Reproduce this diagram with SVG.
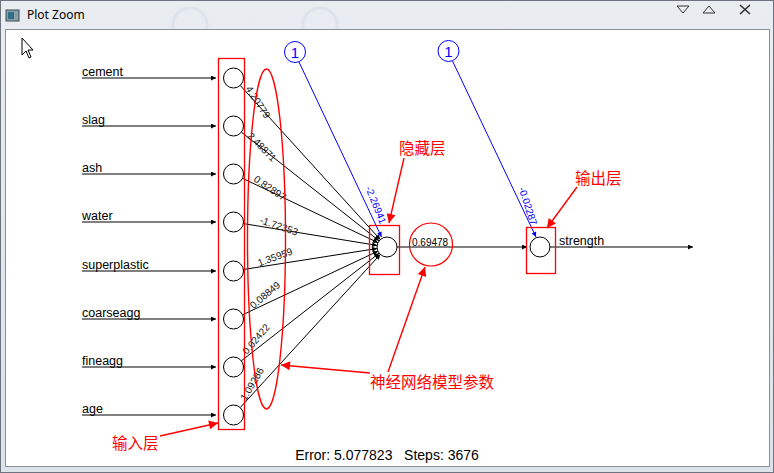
<svg xmlns="http://www.w3.org/2000/svg" width="774" height="473" viewBox="0 0 774 473">
<style>
.lbl{font-family:"Liberation Sans",Arial,sans-serif;font-size:12.5px;fill:#000}
.w{font-family:"Liberation Sans",Arial,sans-serif;font-size:10px;fill:#111;text-anchor:middle}
.bw{font-family:"Liberation Sans",Arial,sans-serif;font-size:10px;fill:#00f;text-anchor:middle}
.cn{font-family:"Noto Sans CJK SC","Noto Sans",sans-serif;font-size:15.5px;fill:#f00}
.node{fill:#fff;stroke:#000;stroke-width:1}
.box{fill:none;stroke:#f00;stroke-width:1.3}
.k{stroke:#000;stroke-width:1;fill:none}
.b{stroke:#00f;stroke-width:1;fill:none}
.r{stroke:#f00;stroke-width:1.4;fill:none}
</style>
<defs>
<marker id="ak" viewBox="0 0 10 10" refX="10" refY="5" markerWidth="7" markerHeight="5" markerUnits="userSpaceOnUse" orient="auto"><path d="M0,0 L10,5 L0,10 z" fill="#000"/></marker>
<marker id="ab" viewBox="0 0 10 10" refX="10" refY="5" markerWidth="7" markerHeight="5" markerUnits="userSpaceOnUse" orient="auto"><path d="M0,0 L10,5 L0,10 z" fill="#00f"/></marker>
<marker id="ar" viewBox="0 0 10 10" refX="10" refY="5" markerWidth="13" markerHeight="9" markerUnits="userSpaceOnUse" orient="auto"><path d="M0,0 L10,5 L0,10 z" fill="#f00"/></marker>
<linearGradient id="tb" x1="0" y1="0" x2="0" y2="1"><stop offset="0" stop-color="#e9edf1"/><stop offset="1" stop-color="#dde3ea"/></linearGradient>
</defs>

<g id="window">
<rect x="0" y="0" width="774" height="473" fill="url(#tb)"/>
<rect x="0.5" y="0.5" width="773" height="472" fill="none" stroke="#6d7480"/>
<circle cx="190" cy="25" r="17" fill="none" stroke="#c8cde0" stroke-width="3" opacity="0.3"/>
<circle cx="320" cy="25" r="17" fill="none" stroke="#c8cde0" stroke-width="3" opacity="0.3"/>
<rect x="6" y="10" width="13" height="11" fill="#8aa0a8" stroke="#3c4a55" stroke-width="1"/>
<rect x="8" y="12" width="6" height="7" fill="#2f6f88"/>
<text x="27" y="19" style="font-family:'Noto Sans','Liberation Sans',sans-serif;font-size:12px;fill:#000">Plot Zoom</text>
<path d="M677,6 L689,6 L683,13 z" fill="none" stroke="#333" stroke-width="1"/>
<path d="M703,13 L715,13 L709,6 z" fill="none" stroke="#333" stroke-width="1"/>
<path d="M740,5 L750,14 M750,5 L740,14" stroke="#333" stroke-width="1.6"/>
<rect x="5.5" y="29.5" width="764" height="437" fill="#fff" stroke="#8a8f96"/>
<path d="M22,38 L22,55 L26,51 L29,58 L31,57 L28,50 L33,50 z" fill="#fff" stroke="#000" stroke-width="1"/>
</g>

<g id="connectors">
<line class="k" x1="82" y1="78" x2="216" y2="78" marker-end="url(#ak)"/>
<line class="k" x1="82" y1="126" x2="216" y2="126" marker-end="url(#ak)"/>
<line class="k" x1="82" y1="174" x2="216" y2="174" marker-end="url(#ak)"/>
<line class="k" x1="82" y1="222" x2="216" y2="222" marker-end="url(#ak)"/>
<line class="k" x1="82" y1="271" x2="216" y2="271" marker-end="url(#ak)"/>
<line class="k" x1="82" y1="319" x2="216" y2="319" marker-end="url(#ak)"/>
<line class="k" x1="82" y1="367" x2="216" y2="367" marker-end="url(#ak)"/>
<line class="k" x1="82" y1="415" x2="216" y2="415" marker-end="url(#ak)"/>

<line class="k" x1="240.2" y1="85.4" x2="380.3" y2="239.6" marker-end="url(#ak)"/>
<line class="k" x1="241.4" y1="132.2" x2="379.1" y2="240.8" marker-end="url(#ak)"/>
<line class="k" x1="242.5" y1="178.3" x2="378" y2="242.7" marker-end="url(#ak)"/>
<line class="k" x1="243.4" y1="223.6" x2="377.1" y2="245.4" marker-end="url(#ak)"/>
<line class="k" x1="243.4" y1="269.5" x2="377.1" y2="248.5" marker-end="url(#ak)"/>
<line class="k" x1="242.6" y1="314.8" x2="377.9" y2="251.2" marker-end="url(#ak)"/>
<line class="k" x1="241.4" y1="360.8" x2="379.1" y2="253.2" marker-end="url(#ak)"/>
<line class="k" x1="240.2" y1="407.6" x2="380.3" y2="254.4" marker-end="url(#ak)"/>

<line class="b" x1="299" y1="62" x2="381.5" y2="237" marker-end="url(#ab)"/>
<line class="b" x1="452.5" y1="61" x2="536" y2="237" marker-end="url(#ab)"/>

<line class="k" x1="397" y1="247" x2="527" y2="247" marker-end="url(#ak)"/>
<line class="k" x1="550" y1="247" x2="693" y2="247" marker-end="url(#ak)"/>

<text class="w" transform="translate(258,102) rotate(57)" y="3.5">4.20779</text>
<text class="w" transform="translate(262,147) rotate(45)" y="3.5">2.48871</text>
<text class="w" transform="translate(270,188) rotate(34)" y="3.5">0.82897</text>
<text class="w" transform="translate(279,226) rotate(19)" y="3.5">-1.72353</text>
<text class="w" transform="translate(275,257) rotate(-20)" y="3.5">1.35959</text>
<text class="w" transform="translate(265,295) rotate(-40)" y="3.5">0.08849</text>
<text class="w" transform="translate(256,339) rotate(-50)" y="3.5">0.02422</text>
<text class="w" transform="translate(252,384) rotate(-59)" y="3.5">1.09286</text>
<text class="bw" transform="translate(376,205) rotate(68)" y="3.5">-2.26941</text>
<text class="bw" transform="translate(528,206) rotate(72)" y="3.5">-0.02287</text>
</g>

<g id="input-labels">
<text class="lbl" x="82" y="76">cement</text>
<text class="lbl" x="82" y="124">slag</text>
<text class="lbl" x="82" y="172">ash</text>
<text class="lbl" x="82" y="220">water</text>
<text class="lbl" x="82" y="269">superplastic</text>
<text class="lbl" x="82" y="317">coarseagg</text>
<text class="lbl" x="82" y="365">fineagg</text>
<text class="lbl" x="82" y="413">age</text>
</g>

<g id="input-layer">
<rect class="box" x="218.5" y="58.5" width="26" height="371"/>
<circle class="node" cx="233.5" cy="78" r="10"/>
<circle class="node" cx="233.5" cy="126" r="10"/>
<circle class="node" cx="233.5" cy="174" r="10"/>
<circle class="node" cx="233.5" cy="222" r="10"/>
<circle class="node" cx="233.5" cy="271" r="10"/>
<circle class="node" cx="233.5" cy="319" r="10"/>
<circle class="node" cx="233.5" cy="367" r="10"/>
<circle class="node" cx="233.5" cy="415" r="10"/>
</g>

<g id="params-ellipse">
<ellipse cx="266.5" cy="239" rx="19" ry="170" fill="none" stroke="#f00" stroke-width="1.4"/>
</g>

<g id="bias1">
<circle cx="295" cy="52" r="10.5" fill="#fff" stroke="#00f" stroke-width="1"/>
<text x="295" y="57.5" style="font-family:'Liberation Sans',Arial,sans-serif;font-size:15px;fill:#00f;text-anchor:middle">1</text>
</g>
<g id="bias2">
<circle cx="448.5" cy="51" r="10.5" fill="#fff" stroke="#00f" stroke-width="1"/>
<text x="448.5" y="56.5" style="font-family:'Liberation Sans',Arial,sans-serif;font-size:15px;fill:#00f;text-anchor:middle">1</text>
</g>

<g id="hidden-layer">
<rect class="box" x="369.5" y="225.5" width="30" height="49"/>
<circle class="node" cx="387" cy="247" r="10"/>
</g>

<g id="hidden-value">
<circle cx="431" cy="244.5" r="21.5" fill="none" stroke="#f00" stroke-width="1.2"/>
<text x="412" y="246" style="font-family:'Liberation Sans',Arial,sans-serif;font-size:10px;fill:#000">0.69478</text>
</g>

<g id="output-layer">
<rect class="box" x="526.5" y="227.5" width="29" height="46"/>
<circle class="node" cx="540" cy="247" r="10"/>
<text class="lbl" x="559" y="245">strength</text>
</g>

<g id="annotations">
<line class="r" x1="404" y1="158" x2="389" y2="223" marker-end="url(#ar)"/>
<text class="cn" x="399" y="154">隐藏层</text>
<line class="r" x1="577" y1="187" x2="547" y2="228" marker-end="url(#ar)"/>
<text class="cn" x="575" y="184">输出层</text>
<line class="r" x1="370" y1="373" x2="281" y2="365" marker-end="url(#ar)"/>
<line class="r" x1="388" y1="372" x2="425" y2="267" marker-end="url(#ar)"/>
<text class="cn" x="370" y="388">神经网络模型参数</text>
<line class="r" x1="160" y1="436" x2="218" y2="423" marker-end="url(#ar)"/>
<text class="cn" x="112" y="449">输入层</text>
</g>

<g id="footer">
<text x="387" y="460" style="font-family:'Liberation Sans',Arial,sans-serif;font-size:14px;fill:#000;text-anchor:middle" xml:space="preserve">Error: 5.077823   Steps: 3676</text>
</g>
</svg>
